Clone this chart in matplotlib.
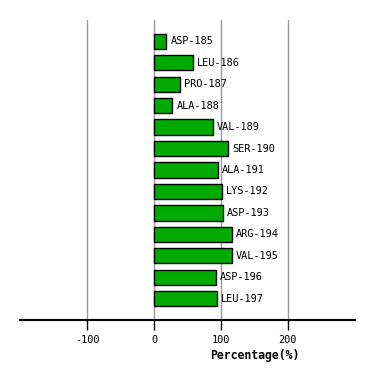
import matplotlib
matplotlib.use("Agg")
import matplotlib.pyplot as plt

# data
residues = ["ASP-185", "LEU-186", "PRO-187", "ALA-188", "VAL-189", "SER-190",
            "ALA-191", "LYS-192", "ASP-193", "ARG-194", "VAL-195", "ASP-196",
            "LEU-197"]
percent = [18.5, 58, 39.5, 27.5, 87.5, 110.5, 95.5, 101.5, 102.5, 116.5,
           116.5, 92.5, 94]
xticks = [-100, 0, 100, 200]

W, H = 374, 380
fig = plt.figure(figsize=(W / 100, H / 100), dpi=100)
ax = fig.add_axes([20 / W, (H - 320) / H, 335 / W, 300 / H])

plt.rcParams["font.family"] = "DejaVu Sans Mono"

ypos = list(range(len(residues)))
ax.barh(ypos, percent, height=0.7, color="#00aa00", edgecolor="black",
        linewidth=1, zorder=3)

# labels right of each bar
for y, v, name in zip(ypos, percent, residues):
    ax.annotate(name, (v, y), xytext=(4, 0), textcoords="offset pixels",
                va="center", ha="left", fontsize=7.4,
                family="DejaVu Sans Mono", zorder=4)

ax.set_xlim(-201, 301)
ax.set_ylim(12.98, -0.98)

for x in xticks:
    ax.axvline(x, color="#999999", lw=1, zorder=1)

ax.set_xticks(xticks)
ax.set_xticklabels([str(t) for t in xticks], family="DejaVu Sans Mono",
                   fontsize=7.4)
ax.set_yticks([])
ax.tick_params(axis="x", direction="out", length=7, width=1, pad=4)

for s in ["left", "right", "top"]:
    ax.spines[s].set_visible(False)
ax.spines["bottom"].set_linewidth(1.5)

ax.set_xlabel("Percentage(%)", family="DejaVu Sans Mono", fontweight="bold",
              fontsize=8.3)
ax.xaxis.set_label_coords((255 - 20) / 335, -29 / 300)

fig.savefig("out.png", dpi=100)
